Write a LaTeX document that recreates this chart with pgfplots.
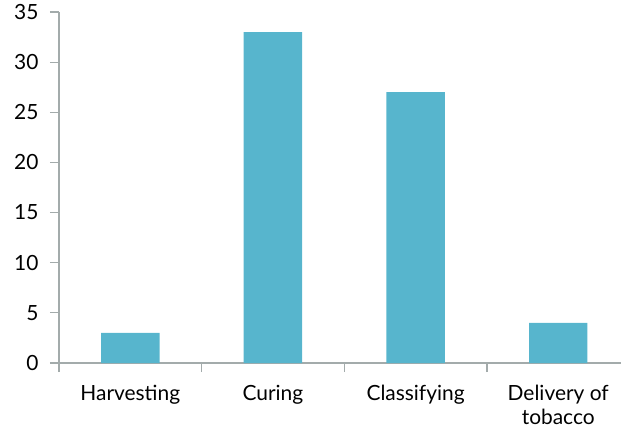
\documentclass[border=0pt]{standalone}
\usepackage{pgfplots}
\pgfplotsset{compat=1.18}
\usepackage{fontspec}
\setmainfont{Lato}
\definecolor{barc}{HTML}{57B5CD}
\definecolor{axc}{HTML}{A3ABAB}
\begin{document}
\begin{tikzpicture}
\begin{axis}[
    scale only axis,
    width=562bp, height=351bp,
    xmin=-0.5, xmax=3.44,
    ymin=0, ymax=35,
    axis lines*=left,
    axis line style={axc, line width=1.3bp},
    tick style={axc, line width=1.2bp},
    tick align=outside,
    major tick length=9bp,
    ytick={0,5,...,35},
    xtick={-0.5,0.5,1.5,2.5},
    xticklabels={},
    extra x ticks={0,1,2,3},
    extra x tick labels={Harvesting,Curing,Classifying,{Delivery of\\tobacco}},
    extra x tick style={major tick length=0pt,
        xticklabel style={yshift=-19bp, overlay}},
    xticklabel style={align=center},
    tick label style={font=\fontsize{21}{24}\selectfont, text=black},
    /pgf/number format/assume math mode=true,
    yticklabel style={xshift=-8bp},
    clip=false,
]
\addplot[ybar, bar width=0.41, fill=barc, draw=none]
    coordinates {(0,3) (1,33) (2,27) (3,4)};
\path (rel axis cs:0,0) ++(-59bp,-66bp) (rel axis cs:1,1) ++(3bp,12bp);
\end{axis}
\end{tikzpicture}
\end{document}
